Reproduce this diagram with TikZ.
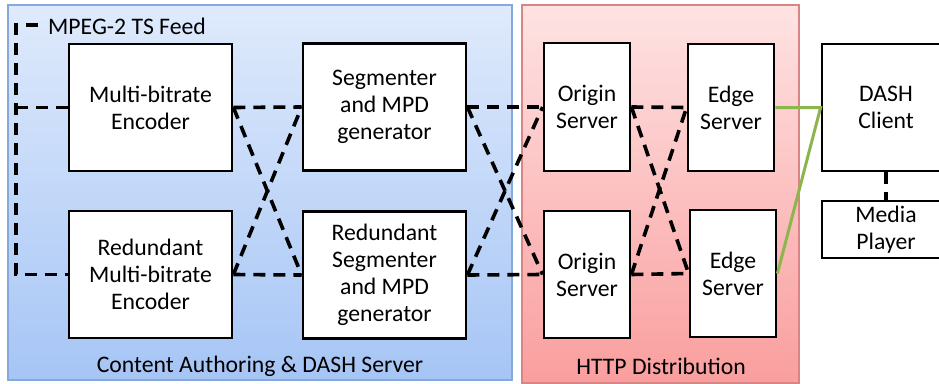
\documentclass[tikz,border=0pt]{standalone}
\usepackage{fontspec}
\setmainfont{Carlito}
\definecolor{bluetop}{HTML}{DFEAFC}
\definecolor{bluebot}{HTML}{A6C5F5}
\definecolor{blueline}{HTML}{84A9DC}
\definecolor{redtop}{HTML}{FEE3E3}
\definecolor{redbot}{HTML}{FA9E9E}
\definecolor{redline}{HTML}{D98585}
\definecolor{linkgreen}{HTML}{8CB64C}

\begin{document}
\begin{tikzpicture}[x=1pt,y=-1pt,
		box/.style={draw,line width=2.8pt,fill=white,align=center,inner sep=0pt,
			font=\fontsize{23.7}{27}\selectfont},
		link/.style={line width=3.6pt,dash pattern=on 12pt off 8pt},
		greenlink/.style={line width=3pt,color=linkgreen},
		label/.style={font=\fontsize{23.7}{27}\selectfont,inner sep=0pt}]
		\clip (0,0) rectangle (939,383);
		
		% panels
		\shade[top color=bluetop,bottom color=bluebot,draw=blueline,line width=1.2pt] (8,5) rectangle (512,380);
		\shade[top color=redtop,bottom color=redbot,draw=redline,line width=1.2pt] (522,5) rectangle (799,383);
		\node[label] (authoring) at (260,366) {Content Authoring \& DASH Server};
		\node[label] (http) at (661,366) {HTTP Distribution};
		
		% boxes
		\node[box,minimum width=163pt,minimum height=127pt] (enc) at (150.5,107.5) {Multi-bitrate\\Encoder};
		\node[box,minimum width=163pt,minimum height=127pt] (renc) at (150.5,274.5) {Redundant\\Multi-bitrate\\Encoder};
		\node[box,minimum width=163pt,minimum height=127pt] (seg) at (384.5,107) {Segmenter\\and MPD\\generator};
		\node[box,minimum width=163pt,minimum height=127pt] (rseg) at (384.5,275) {Redundant\\Segmenter\\and MPD\\generator};
		\node[box,minimum width=86pt,minimum height=128pt] (orig) at (587,107) {Origin\\Server};
		\node[box,minimum width=86pt,minimum height=127pt] (rorig) at (587,274.5) {Origin\\Server};
		\node[box,minimum width=86pt,minimum height=127pt] (edge) at (731,107.5) {Edge\\Server};
		\node[box,minimum width=86pt,minimum height=127pt] (redge) at (733,273.5) {Edge\\Server};
		\node[box,minimum width=128pt,minimum height=127pt] (client) at (886,107.5) {DASH\\Client};
		\node[box,minimum width=128pt,minimum height=57pt] (player) at (886,229.5) {Media\\Player};
		
		% feed
		\node[label,anchor=west] (feedlabel) at (48,26) {MPEG-2 TS Feed};
		\coordinate (feed) at (38,25);
		\coordinate (corner) at (16,25);
		\draw[link] (feed) -- (corner) -- (corner |- renc.west) -- (renc.west);
		\draw[link] (corner |- enc.west) -- (enc.west);
		
		% dashed links
		\draw[link] (enc.east) -- (seg.west);
		\draw[link] (renc.east) -- (rseg.west);
		\draw[link] (enc.east) -- (rseg.west);
		\draw[link] (renc.east) -- (seg.west);
		
		\draw[link] (seg.east) -- (orig.west);
		\draw[link] (rseg.east) -- (rorig.west);
		\draw[link] (seg.east) -- (rorig.west);
		\draw[link] (rseg.east) -- (orig.west);
		
		\draw[link] (orig.east) -- (edge.west);
		\draw[link] (rorig.east) -- (redge.west);
		\draw[link] (orig.east) -- (redge.west);
		\draw[link] (rorig.east) -- (edge.west);
		
		\draw[link] (client.south) -- (player.north);
		
		% client links
		\draw[greenlink] (edge.east) -- (client.west) -- (redge.east);
		\end{tikzpicture}
\end{document}
